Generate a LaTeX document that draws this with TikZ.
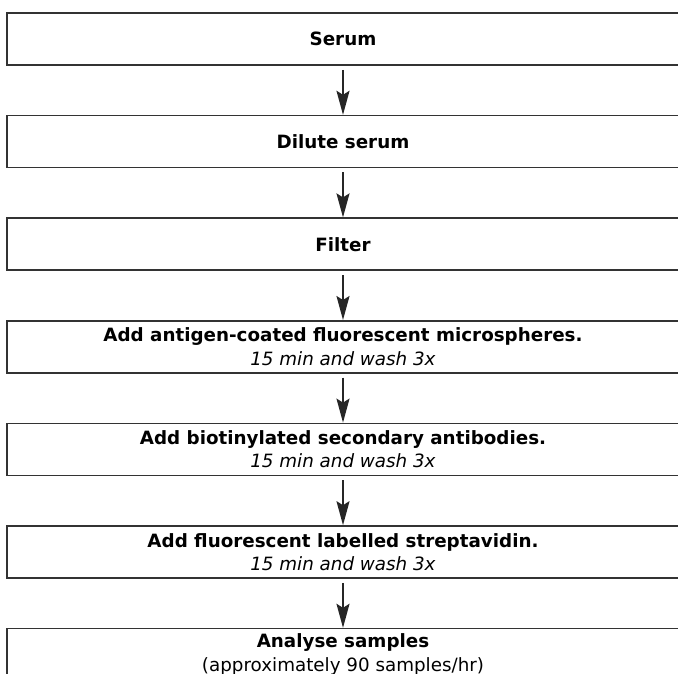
\documentclass[tikz,border=0pt]{standalone}
\usepackage{fontspec}
\setmainfont{DejaVu Sans}
\usetikzlibrary{arrows.meta,positioning}
\definecolor{boxgray}{RGB}{51,51,51}
\tikzset{
  stepbox/.style={draw=boxgray,line width=1.6pt,minimum width=672pt,
    minimum height=52pt,align=center,inner sep=0pt,
    font=\fontsize{18.3}{23.5}\selectfont},
  flowarrow/.style={-{Stealth[length=24pt,width=13pt,inset=4pt]},
    line width=1.8pt,draw=black!85}
}
\newcommand{\steptime}{\textit{15 min and wash 3x}}

\begin{document}
\begin{tikzpicture}[node distance=49pt]
  \useasboundingbox (0,0) rectangle (678pt,-673pt);
  \clip (0,0) rectangle (678pt,-673pt);
  \node[stepbox] (serum) at (343pt,-39pt) {\textbf{Serum}};
  \node[stepbox,below=of serum] (dilute) {\textbf{Dilute serum}};
  \node[stepbox,below=of dilute] (filter) {\textbf{Filter}};
  \node[stepbox,below=of filter] (beads) {\textbf{Add antigen-coated fluorescent microspheres.}\\\steptime};
  \node[stepbox,below=of beads] (second) {\textbf{Add biotinylated secondary antibodies.}\\\steptime};
  \node[stepbox,below=of second] (strep) {\textbf{Add fluorescent labelled streptavidin.}\\\steptime};
  \node[stepbox,below=of strep] (analyse) {\textbf{Analyse samples}\\(approximately 90 samples/hr)};
  \draw[flowarrow] ([yshift=-4pt]serum.south)--(dilute.north);
  \draw[flowarrow] ([yshift=-4pt]dilute.south)--(filter.north);
  \draw[flowarrow] ([yshift=-4pt]filter.south)--(beads.north);
  \draw[flowarrow] ([yshift=-4pt]beads.south)--(second.north);
  \draw[flowarrow] ([yshift=-4pt]second.south)--(strep.north);
  \draw[flowarrow] ([yshift=-4pt]strep.south)--(analyse.north);
\end{tikzpicture}
\end{document}
